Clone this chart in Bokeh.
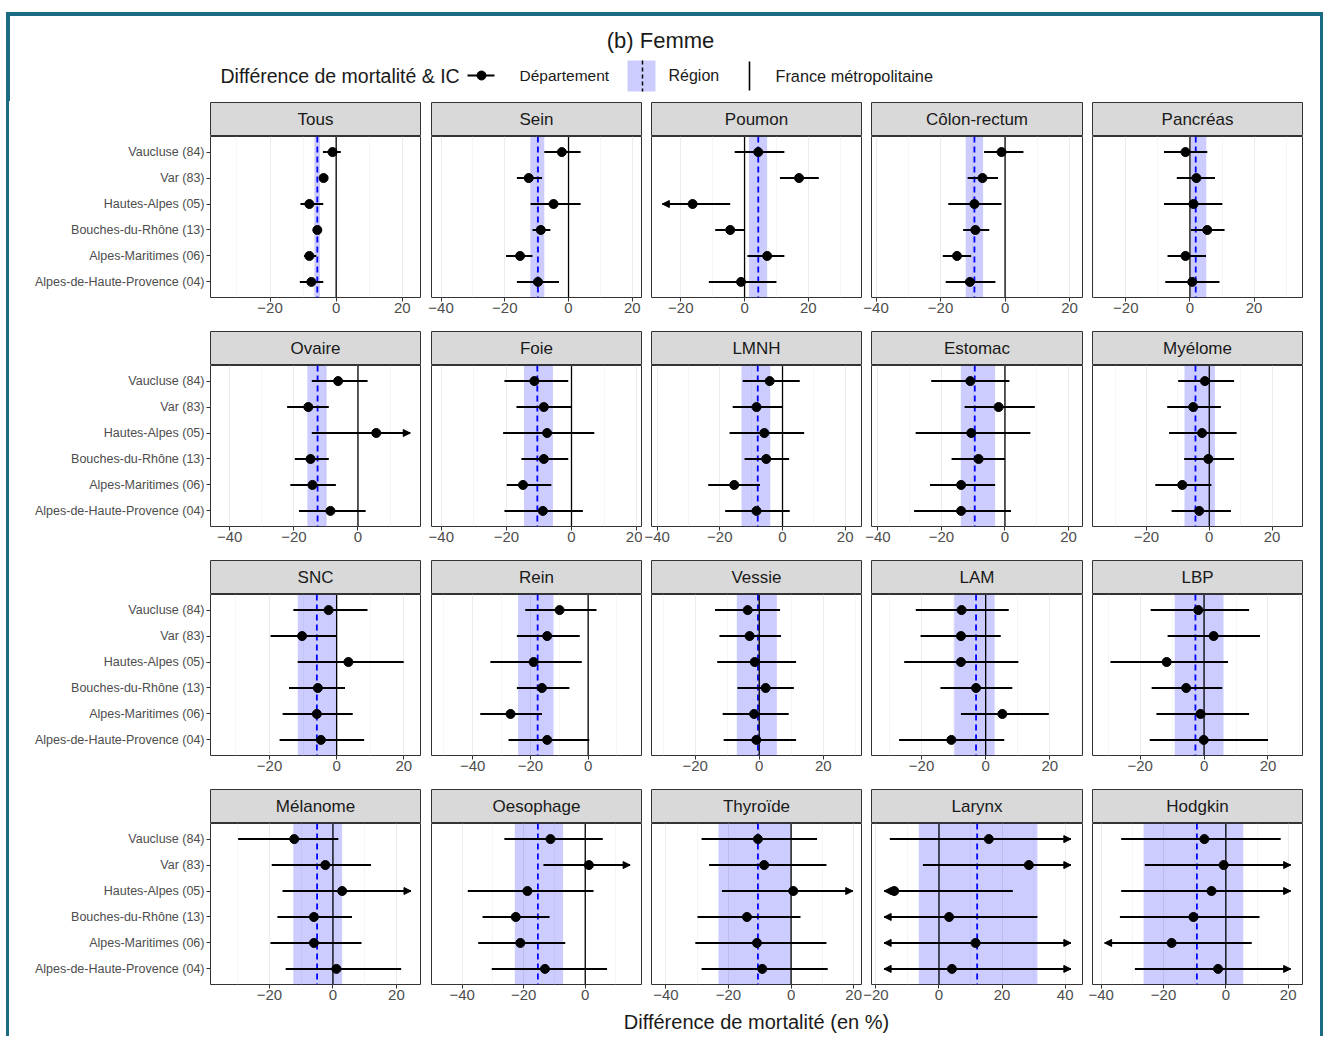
from bokeh.plotting import figure
from bokeh.layouts import column, row
from bokeh.models import (Range1d, FixedTicker, Span, BoxAnnotation, Label, Arrow,
                          NormalHead, ColumnDataSource, Spacer)
from bokeh.embed import file_html
from bokeh.resources import INLINE

# ---------------- data ----------------
DEPTS = ["Vaucluse (84)", "Var (83)", "Hautes-Alpes (05)", "Bouches-du-Rhône (13)",
         "Alpes-Maritimes (06)", "Alpes-de-Haute-Provence (04)"]
CANCERS = ["Tous", "Sein", "Poumon", "Côlon-rectum", "Pancréas",
           "Ovaire", "Foie", "LMNH", "Estomac", "Myélome",
           "SNC", "Rein", "Vessie", "LAM", "LBP",
           "Mélanome", "Oesophage", "Thyroïde", "Larynx", "Hodgkin"]

EST = [
    [-1.1, -3.8, -8.1, -5.7, -8.1, -7.5],
    [-2.1, -12.5, -4.7, -8.7, -15.2, -9.6],
    [4.3, 17.1, -16.3, -4.5, 7.1, -1.1],
    [-1.1, -7.0, -9.5, -9.2, -14.9, -10.9],
    [-1.4, 2.0, 1.1, 5.4, -1.4, 0.7],
    [-6.2, -15.5, 5.7, -14.8, -14.2, -8.6],
    [-11.4, -8.5, -7.5, -8.5, -14.9, -8.8],
    [-4.1, -8.3, -5.8, -5.2, -15.4, -8.3],
    [-10.9, -2.0, -10.6, -8.3, -13.8, -13.8],
    [-1.4, -5.1, -2.3, -0.3, -8.6, -3.2],
    [-2.4, -10.3, 3.5, -5.6, -5.9, -4.7],
    [-9.9, -14.2, -18.9, -16.0, -26.9, -14.2],
    [-3.6, -3.0, -1.4, 2.0, -1.6, -0.9],
    [-7.5, -7.7, -7.7, -3.0, 5.2, -10.7],
    [-1.8, 3.0, -11.7, -5.6, -1.1, -0.1],
    [-12.2, -2.4, 2.9, -6.0, -6.0, 1.1],
    [-11.3, 1.2, -18.8, -22.6, -21.1, -13.1],
    [-10.6, -8.6, 0.7, -14.1, -10.9, -9.2],
    [15.8, 28.5, -14.2, 3.2, 11.6, 4.1],
    [-6.9, -0.7, -4.6, -10.4, -17.4, -2.5],
]
LO = [
    [-4.0, -5.0, -10.8, -6.6, -9.7, -11.0],
    [-7.6, -16.2, -11.9, -11.3, -19.6, -16.2],
    [-3.1, 11.1, -25.8, -9.2, 0.9, -11.2],
    [-6.5, -11.6, -17.6, -13.0, -19.3, -18.4],
    [-8.1, -4.1, -8.1, 0.3, -7.0, -7.7],
    [-14.4, -22.1, -14.4, -19.7, -21.1, -18.4],
    [-20.6, -16.9, -21.0, -15.4, -19.9, -20.6],
    [-12.7, -15.9, -16.9, -12.1, -23.7, -18.3],
    [-23.2, -12.7, -28.1, -16.8, -23.6, -28.6],
    [-9.9, -13.4, -12.8, -8.0, -17.2, -12.0],
    [-12.9, -19.7, -11.6, -14.2, -16.1, -17.0],
    [-21.8, -24.7, -33.9, -24.7, -37.4, -27.6],
    [-13.8, -12.4, -13.1, -6.8, -11.4, -11.1],
    [-21.8, -20.3, -25.4, -14.1, -7.7, -27.0],
    [-16.7, -11.4, -29.3, -16.4, -14.9, -17.0],
    [-29.9, -19.3, -15.9, -17.5, -19.7, -14.9],
    [-26.3, -13.6, -38.2, -33.4, -34.8, -30.4],
    [-28.6, -26.2, -22.1, -29.9, -30.6, -28.6],
    [-15.6, -5.1, -17.4, -17.4, -17.4, -17.4],
    [-33.6, -26.0, -33.6, -34.0, -38.9, -29.2],
]
HI = [
    [1.4, -2.6, -3.9, -4.9, -6.0, -3.9],
    [3.8, -8.3, 3.8, -5.7, -11.3, -3.0],
    [12.5, 23.3, -4.5, -0.1, 12.5, 10.0],
    [5.7, -2.2, -1.1, -4.9, -10.5, -3.0],
    [5.4, 7.8, 10.1, 10.8, 5.0, 9.2],
    [3.0, -9.1, 16.3, -9.1, -6.9, 2.4],
    [-1.0, -0.1, 7.0, -1.0, -6.2, 3.5],
    [5.5, 0.0, 6.9, 2.1, -7.2, 2.3],
    [1.4, 9.4, 8.0, 0.0, -3.1, 1.9],
    [7.9, 3.7, 8.7, 7.9, 0.7, 6.9],
    [9.2, 0.0, 20.0, 2.5, 4.8, 8.2],
    [2.9, -2.9, -2.2, -6.5, -16.0, 0.4],
    [6.5, 6.8, 11.5, 10.8, 9.2, 11.5],
    [7.2, 4.7, 10.2, 8.3, 19.7, 5.8],
    [14.1, 17.5, 7.5, 5.7, 14.1, 20.0],
    [1.7, 12.0, 24.6, 6.0, 9.0, 21.5],
    [5.7, 14.6, 2.7, -11.6, -6.5, 7.1],
    [8.3, 11.3, 19.7, 3.0, 11.3, 11.7],
    [41.8, 41.8, 23.4, 31.2, 41.8, 41.8],
    [17.6, 20.8, 20.8, 10.8, 8.3, 20.8],
]
# departments (index) whose interval is cut and ends with an arrow
ARROW_LO = [[], [], [2], [], [], [], [], [], [], [], [], [], [], [], [], [], [], [], [2, 3, 4, 5], [4]]
ARROW_HI = [[], [], [], [], [], [2], [], [], [], [], [], [], [], [], [], [2], [1], [2], [0, 1, 4, 5], [1, 2, 5]]

REG = [-5.7, -9.6, 4.3, -9.5, 1.8, -12.6, -10.5, -7.9, -9.5, -4.4,
       -5.9, -17.5, -0.4, -3.0, -2.7, -5.0, -15.4, -10.6, 12.1, -9.3]
REG_LO = [-6.6, -12.0, 1.4, -12.2, 0.3, -15.8, -14.6, -13.1, -13.9, -7.9,
          -11.6, -24.3, -7.0, -9.8, -9.2, -12.5, -22.9, -23.2, -6.4, -26.4]
REG_HI = [-4.9, -7.6, 7.1, -6.8, 5.1, -9.8, -5.7, -3.9, -3.1, 1.8,
          0.0, -12.0, 5.5, 2.8, 6.1, 2.9, -7.2, 0.0, 31.2, 5.6]
FRANCE = 0.0

X_MIN = [-38, -43, -29.2, -41.4, -30.4, -46, -43, -41.8, -42, -37.2,
         -37.6, -54.3, -33.6, -35.6, -34.9, -38.6, -50, -44.6, -21.4, -42.8]
X_MAX = [25.5, 22.9, 36.7, 24, 35.1, 19.5, 21.5, 25.2, 24.4, 29.7,
         25, 18.5, 31.9, 30.2, 30.8, 27.6, 18.3, 22.5, 45.5, 24.6]
MAJOR_TICKS = [-60, -40, -20, 0, 20, 40, 60]
MINOR_TICKS = [-50, -30, -10, 10, 30, 50]

# ---------------- style / layout ----------------
FONT = "Liberation Sans"
TEAL = "#1c6b84"
WIDTHS = [412, 221, 220, 221, 220]
LEFTB = [201, 10, 9, 9, 9]
NCOL = 5
Y = [len(DEPTS) - i for i in range(len(DEPTS))]
PAGE_W = 1323
HH = 101          # header height
FH = 28           # footer height
GRID_W = sum(WIDTHS)
LW = 9
RW = PAGE_W - LW - GRID_W


def blank(w, h, xr=(0, 1), yr=(0, 1)):
    f = figure(width=w, height=h, x_range=Range1d(*xr), y_range=Range1d(*yr),
               x_axis_location=None, y_axis_location=None, output_backend="svg",
               toolbar_location=None, title=None, min_border=0)
    f.grid.visible = False
    f.outline_line_color = None
    f.background_fill_color = "white"
    f.border_fill_color = "white"
    return f


def strip(name, c):
    s = figure(width=WIDTHS[c], height=35, x_range=Range1d(0, 1), y_range=Range1d(0, 1),
               x_axis_location=None, y_axis_location=None, output_backend="svg",
               toolbar_location=None, title=None,
               min_border_left=LEFTB[c], min_border_right=1, min_border_top=1, min_border_bottom=0)
    s.grid.visible = False
    s.background_fill_color = "#d9d9d9"
    s.border_fill_color = "white"
    s.outline_line_color = "#333333"
    s.outline_line_width = 1
    s.add_layout(Label(x=0.5, y=0.5, text=name, text_align="center", text_baseline="middle",
                       text_font=FONT, text_font_size="17px", text_color="#1a1a1a"))
    return s


def panel(k, c, last):
    bb = 24 if last else 33
    p = figure(width=WIDTHS[c], height=161 + bb,
               x_range=Range1d(X_MIN[k], X_MAX[k]), y_range=Range1d(0.4, len(DEPTS) + 0.6),
               y_axis_location="left" if c == 0 else None,
               output_backend="svg", toolbar_location=None, title=None,
               min_border_left=LEFTB[c], min_border_right=1, min_border_top=0, min_border_bottom=bb)
    p.background_fill_color = "white"
    p.border_fill_color = "white"
    p.outline_line_color = "#333333"
    p.outline_line_width = 1
    p.ygrid.grid_line_color = None
    p.xaxis.ticker = FixedTicker(ticks=MAJOR_TICKS, minor_ticks=MINOR_TICKS)
    p.xgrid.grid_line_color = "#ebebeb"
    p.xgrid.grid_line_width = 1
    p.xgrid.minor_grid_line_color = "#f0f0f0"
    p.xgrid.minor_grid_line_width = 0.7
    p.xaxis.axis_line_color = None
    p.xaxis.major_tick_line_color = "#333333"
    p.xaxis.major_tick_out = 4
    p.xaxis.major_tick_in = 0
    p.xaxis.minor_tick_line_color = None
    p.xaxis.major_label_standoff = 1
    p.xaxis.major_label_text_font = FONT
    p.xaxis.major_label_text_font_size = "15px"
    p.xaxis.major_label_text_color = "#4d4d4d"
    if c == 0:
        p.yaxis.ticker = FixedTicker(ticks=Y, minor_ticks=[])
        p.yaxis.major_label_overrides = {y: d for y, d in zip(Y, DEPTS)}
        p.yaxis.axis_line_color = None
        p.yaxis.major_tick_line_color = "#333333"
        p.yaxis.major_tick_out = 4
        p.yaxis.major_tick_in = 0
        p.yaxis.minor_tick_line_color = None
        p.yaxis.major_label_standoff = 2
        p.yaxis.major_label_text_font = FONT
        p.yaxis.major_label_text_font_size = "12.5px"
        p.yaxis.major_label_text_color = "#4d4d4d"

    p.add_layout(BoxAnnotation(left=REG_LO[k], right=REG_HI[k], fill_color="blue", fill_alpha=0.2,
                               line_color=None, level="underlay"))
    p.add_layout(Span(location=REG[k], dimension="height", line_color="blue", line_width=1.8,
                      line_dash="6 4", level="underlay"))
    p.add_layout(Span(location=FRANCE, dimension="height", line_color="black", line_width=1.3,
                      level="underlay"))

    src = ColumnDataSource(dict(est=EST[k], lo=LO[k], hi=HI[k], y=Y))
    p.segment(x0="lo", y0="y", x1="hi", y1="y", source=src, line_color="black", line_width=2)
    p.scatter(x="est", y="y", source=src, size=9, color="black")

    xs, xe, ya = [], [], []
    for i in ARROW_LO[k]:
        xs.append(EST[k][i]); xe.append(LO[k][i]); ya.append(Y[i])
    for i in ARROW_HI[k]:
        xs.append(EST[k][i]); xe.append(HI[k][i]); ya.append(Y[i])
    if xs:
        p.add_layout(Arrow(end=NormalHead(size=7, fill_color="black", line_color="black", line_width=1),
                           line_color="black", line_width=2,
                           x_start="xs", y_start="y", x_end="xe", y_end="y",
                           source=ColumnDataSource(dict(xs=xs, xe=xe, y=ya))))
    return p


# ---------------- header (with frame top) ----------------
header = blank(PAGE_W, HH, xr=(0, PAGE_W), yr=(HH, 0))
header.quad(left=[6], right=[PAGE_W], top=[12], bottom=[15], color=TEAL)
header.quad(left=[6, PAGE_W - 3], right=[9, PAGE_W], top=[12, 12], bottom=[HH, HH], color=TEAL)
header.add_layout(Label(x=660, y=40, text="(b) Femme", text_align="center", text_baseline="middle",
                        text_font=FONT, text_font_size="22px", text_color="#1a1a1a"))
header.add_layout(Label(x=220, y=75, text="Différence de mortalité & IC", text_baseline="middle",
                        text_font=FONT, text_font_size="19.5px", text_color="#1a1a1a"))
header.segment(x0=[467], y0=[75], x1=[494], y1=[75], line_color="black", line_width=2)
header.scatter(x=[481], y=[75], size=9, color="black")
header.add_layout(Label(x=519, y=75, text="Département", text_baseline="middle",
                        text_font=FONT, text_font_size="15.5px", text_color="#1a1a1a"))
header.quad(left=[627], right=[655], top=[60], bottom=[91], fill_color="blue", fill_alpha=0.2,
            line_color=None)
header.segment(x0=[642], y0=[60], x1=[642], y1=[91], line_color="black", line_width=1.5,
               line_dash="4 3")
header.add_layout(Label(x=668, y=75, text="Région", text_baseline="middle",
                        text_font=FONT, text_font_size="16px", text_color="#1a1a1a"))
header.segment(x0=[749], y0=[61], x1=[749], y1=[90], line_color="black", line_width=1.6)
header.add_layout(Label(x=775, y=75, text="France métropolitaine", text_baseline="middle",
                        text_font=FONT, text_font_size="16.3px", text_color="#1a1a1a"))

# ---------------- footer ----------------
footer = blank(GRID_W, FH, xr=(0, GRID_W), yr=(FH, 0))
footer.add_layout(Label(x=747, y=13, text="Différence de mortalité (en %)", text_align="center",
                        text_baseline="middle", text_font=FONT, text_font_size="20px",
                        text_color="#1a1a1a"))

# ---------------- grid of panels ----------------
blocks = []
nrow = len(CANCERS) // NCOL
for r in range(nrow):
    strips, panels = [], []
    last = r == nrow - 1
    for c in range(NCOL):
        k = r * NCOL + c
        strips.append(strip(CANCERS[k], c))
        panels.append(panel(k, c, last))
    blocks.append(row(*strips))
    blocks.append(row(*panels))
blocks.append(footer)
content = column(*blocks)

BODY_H = 3 * (35 + 194) + (35 + 185) + FH
body = row(Spacer(width=LW - 3, height=BODY_H),
           Spacer(width=3, height=BODY_H, styles={"background-color": TEAL}),
           content,
           Spacer(width=RW - 3, height=BODY_H),
           Spacer(width=3, height=BODY_H, styles={"background-color": TEAL}))

layout = column(header, body)

open("out.html", "w").write(file_html(layout, INLINE))
